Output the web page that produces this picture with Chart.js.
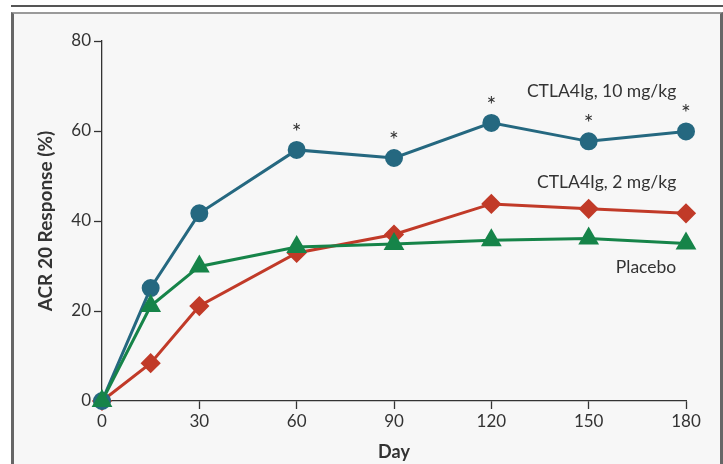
<!DOCTYPE html>
<html>
<head>
<meta charset="utf-8">
<script src="https://cdn.jsdelivr.net/npm/chart.js@4"></script>
<style>
  html, body { margin: 0; padding: 0; background: #fff; }
  #wrap { position: relative; width: 723px; height: 464px; overflow: hidden; }
  #topline { position: absolute; left: 11px; top: 5px; width: 712px; height: 2px; background: #555; }
  #box { position: absolute; left: 11px; top: 12px; width: 706px; height: 470px;
         background: #f7f7f7; border-left: 3px solid #666; border-right: 3px solid #666;
         border-top: 2px solid #9a9a9a; }
  canvas { position: absolute; left: 0; top: 0; }
</style>
</head>
<body>
<div id="wrap">
  <div id="topline"></div>
  <div id="box"></div>
  <canvas id="grafico" width="723" height="464"></canvas>
</div>
<script>
// Datos
const dias = [0, 15, 30, 60, 90, 120, 150, 180];
const dosis10 = [0, 25.1, 41.7, 55.8, 54.0, 61.8, 57.7, 59.9];
const dosis2 = [0, 8.4, 21.1, 32.9, 37.0, 43.8, 42.7, 41.7];
const placebo = [0, 21.1, 29.9, 34.2, 34.9, 35.7, 36.1, 35.0];
const diasSignificativos = [60, 90, 120, 150, 180];
const etiquetas = ['CTLA4Ig, 10 mg/kg', 'CTLA4Ig, 2 mg/kg', 'Placebo'];
const etiquetasX = [177, 177, 177];
const etiquetasY = [68.7, 48.5, 29.7];
const ticksX = [0, 30, 60, 90, 120, 150, 180];
const ticksY = [0, 20, 40, 60, 80];

const AZUL = 'rgb(37,104,128)';
const ROJO = 'rgb(193,58,40)';
const VERDE = 'rgb(22,132,73)';
const TINTA = '#333';
const FUENTE = 'Lato, sans-serif';

const puntos = (valores) => dias.map((d, i) => ({ x: d, y: valores[i] }));

// Textos sobre el gráfico: nombres de series y asteriscos
const textos = {
    id: 'textos',
    afterDatasetsDraw(chart) {
        const { ctx, scales: { x, y } } = chart;
        ctx.save();
        ctx.fillStyle = TINTA;
        ctx.font = '17.5px ' + FUENTE;
        ctx.textAlign = 'right';
        ctx.textBaseline = 'middle';
        etiquetas.forEach((t, i) => {
            ctx.fillText(t, x.getPixelForValue(etiquetasX[i]), y.getPixelForValue(etiquetasY[i]));
        });
        // asteriscos sobre la serie de 10 mg/kg
        ctx.font = '23px ' + FUENTE;
        ctx.textAlign = 'center';
        ctx.textBaseline = 'alphabetic';
        diasSignificativos.forEach(d => {
            const v = dosis10[dias.indexOf(d)];
            ctx.fillText('*', x.getPixelForValue(d), y.getPixelForValue(v) - 10);
        });
        ctx.restore();
    }
};

const ctx = document.getElementById('grafico').getContext('2d');
new Chart(ctx, {
    type: 'line',
    data: {
        datasets: [
            {
                label: etiquetas[2],
                data: puntos(placebo),
                borderColor: VERDE,
                backgroundColor: VERDE,
                pointStyle: 'triangle',
                pointRadius: 9,
                borderWidth: 3,
                order: 1
            },
            {
                label: etiquetas[0],
                data: puntos(dosis10),
                borderColor: AZUL,
                backgroundColor: AZUL,
                pointStyle: 'circle',
                pointRadius: 7.5,
                borderWidth: 3,
                order: 2
            },
            {
                label: etiquetas[1],
                data: puntos(dosis2),
                borderColor: ROJO,
                backgroundColor: ROJO,
                pointStyle: 'rectRot',
                pointRadius: 8,
                borderWidth: 3,
                order: 3
            }
        ]
    },
    options: {
        responsive: false,
        animation: false,
        clip: false,
        layout: { padding: { left: 0, top: 41, right: 37, bottom: 0 } },
        plugins: { legend: { display: false }, tooltip: { enabled: false } },
        elements: { point: { borderWidth: 0 }, line: { tension: 0 } },
        scales: {
            x: {
                type: 'linear',
                min: 0,
                max: 180,
                afterBuildTicks: (s) => { s.ticks = ticksX.map(v => ({ value: v })); },
                afterFit: (s) => { s.height = 63; },
                grid: { drawOnChartArea: false, drawTicks: true, tickLength: 8, color: TINTA, tickWidth: 1.3 },
                border: { display: true, color: TINTA, width: 1.3 },
                ticks: { color: TINTA, padding: 2, font: { family: FUENTE, size: 17 }, maxRotation: 0 },
                title: { display: true, text: 'Day', color: TINTA,
                         font: { family: FUENTE, size: 18, weight: 'bold' }, padding: { top: 0, bottom: 1 } }
            },
            y: {
                min: 0,
                max: 80,
                afterBuildTicks: (s) => { s.ticks = ticksY.map(v => ({ value: v })); },
                afterFit: (s) => { s.width = 102; },
                grid: { drawOnChartArea: false, drawTicks: true, tickLength: 8, color: TINTA, tickWidth: 1.3 },
                border: { display: true, color: TINTA, width: 1.3 },
                ticks: { color: TINTA, padding: 3, font: { family: FUENTE, size: 17 } },
                title: { display: true, text: 'ACR 20 Response (%)', color: TINTA,
                         font: { family: FUENTE, size: 19, weight: 'bold' }, padding: { top: 34, bottom: 0 } }
            }
        }
    },
    plugins: [textos]
});
</script>
</body>
</html>
